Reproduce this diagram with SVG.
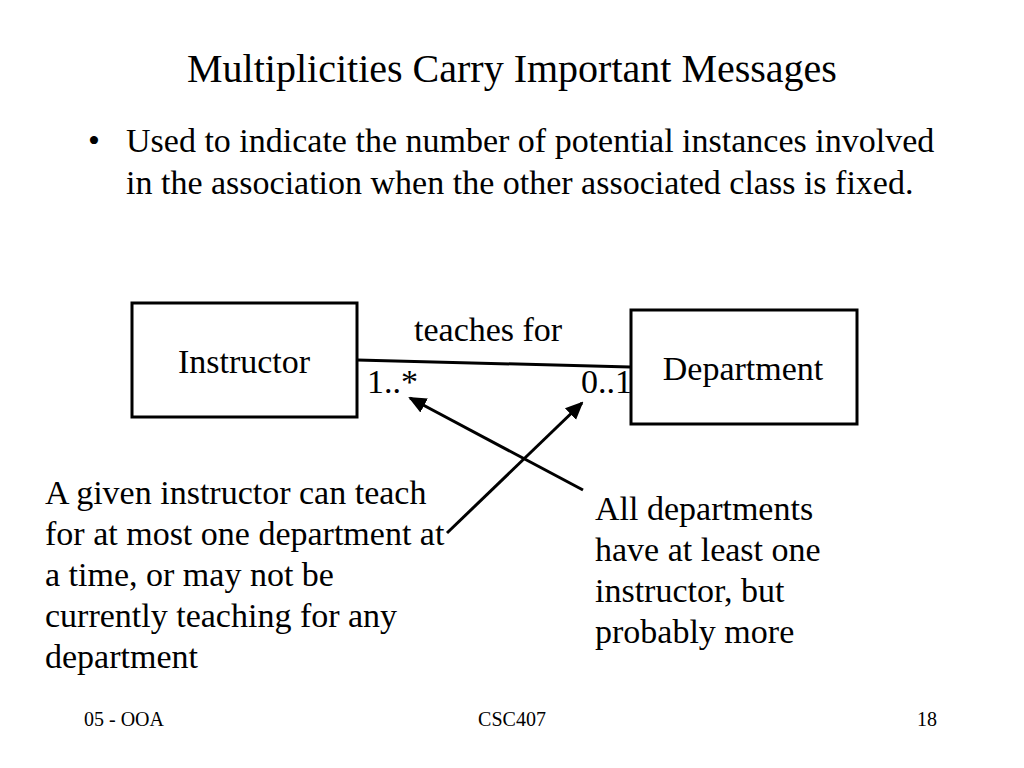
<svg xmlns="http://www.w3.org/2000/svg" width="1024" height="768" viewBox="0 0 1024 768">
<style>
text{font-family:"Liberation Serif","Times New Roman",serif;fill:#000}
.box{fill:#fff;stroke:#000;stroke-width:3}
.ln{stroke:#000;stroke-width:3;fill:none}
.t{font-size:40px}
.b{font-size:34px}
.l{font-size:34px}
.f{font-size:20px}
</style>
<defs>
<marker id="ah2" markerWidth="18" markerHeight="18" refX="16" refY="9" orient="auto" markerUnits="userSpaceOnUse" viewBox="0 0 18 18">
<path d="M0,1 L18,9 L0,17 z" fill="#000"/>
</marker>
</defs>
<rect width="1024" height="768" fill="#fff"/>
<text class="t" x="512" y="82" text-anchor="middle">Multiplicities Carry Important Messages</text>
<text class="b" x="88" y="152">•</text>
<text class="b" x="126" y="152">Used to indicate the number of potential instances involved</text>
<text class="b" x="126" y="194">in the association when the other associated class is fixed.</text>
<g id="connectors">
<line class="ln" x1="357" y1="360" x2="630" y2="367"/>
<line class="ln" x1="583" y1="490" x2="410" y2="398" marker-end="url(#ah2)"/>
<line class="ln" x1="447" y1="533" x2="582" y2="403" marker-end="url(#ah2)"/>
</g>
<g id="instructor">
<rect class="box" x="132" y="303" width="225" height="114"/>
<text class="l" x="244" y="373" text-anchor="middle">Instructor</text>
</g>
<g id="department">
<rect class="box" x="631" y="310" width="226" height="114"/>
<text class="l" x="743" y="380" text-anchor="middle">Department</text>
</g>
<g id="labels">
<text class="l" x="414" y="341">teaches for</text>
<text class="l" x="367" y="393">1..*</text>
<text class="l" x="581" y="393">0..1</text>
</g>
<g id="left-note">
<text class="l" x="45" y="504">A given instructor can teach</text>
<text class="l" x="45" y="545">for at most one department at</text>
<text class="l" x="45" y="586">a time, or may not be</text>
<text class="l" x="45" y="627">currently teaching for any</text>
<text class="l" x="45" y="668">department</text>
</g>
<g id="right-note">
<text class="l" x="595" y="520">All departments</text>
<text class="l" x="595" y="561">have at least one</text>
<text class="l" x="595" y="602">instructor, but</text>
<text class="l" x="595" y="643">probably more</text>
</g>
<text class="f" x="84" y="726">05 - OOA</text>
<text class="f" x="512" y="726" text-anchor="middle">CSC407</text>
<text class="f" x="937" y="726" text-anchor="end">18</text>
</svg>
